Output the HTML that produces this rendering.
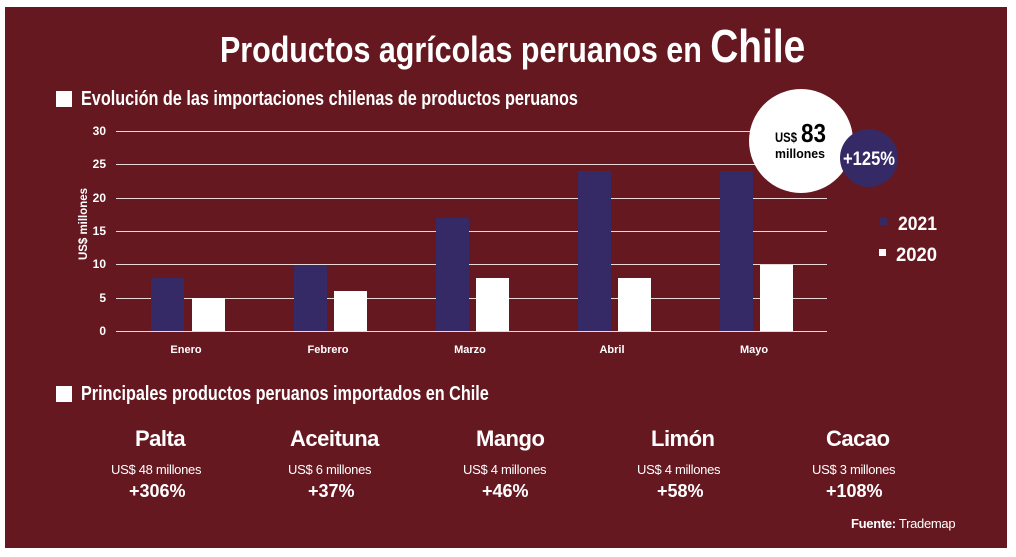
<!DOCTYPE html>
<html><head><meta charset="utf-8"><style>
body{margin:0;background:#fff;width:1016px;height:557px;overflow:hidden;position:relative;font-family:"Liberation Sans",sans-serif}
.bg{position:absolute;left:5px;top:7px;width:1002px;height:541px;background:#651820}
.n{font-family:"Liberation Sans Narrow","Liberation Sans",sans-serif;font-weight:bold;position:absolute;color:#fff;white-space:nowrap;transform-origin:0 0}
.a{position:absolute;color:#fff;white-space:nowrap}
</style></head><body>
<div class="bg"></div>
<div class="n" style="left:220px;top:24px;font-size:36px;line-height:44px;transform:scaleX(0.845)">Productos agrícolas peruanos en <span style="font-size:46px">Chile</span></div>
<div style="position:absolute;left:56px;top:91px;width:16px;height:16px;background:#fff"></div>
<div class="n" style="left:81px;top:88px;font-size:20px;transform:scaleX(0.81)">Evolución de las importaciones chilenas de productos peruanos</div>
<svg width="1016" height="557" style="position:absolute;left:0;top:0" font-family="Liberation Sans Narrow,Liberation Sans,sans-serif" font-weight="bold">
<g stroke="#e8d8d8" stroke-width="1">
<line x1="116" x2="827" y1="131.5" y2="131.5"/><line x1="116" x2="827" y1="164.5" y2="164.5"/><line x1="116" x2="827" y1="198.5" y2="198.5"/><line x1="116" x2="827" y1="231.5" y2="231.5"/><line x1="116" x2="827" y1="264.5" y2="264.5"/><line x1="116" x2="827" y1="298.5" y2="298.5"/><line x1="116" x2="827" y1="331.5" y2="331.5"/>
</g>
<g fill="#fff" font-size="12" text-anchor="end">
<text x="106" y="135">30</text><text x="106" y="168">25</text><text x="106" y="202">20</text><text x="106" y="235">15</text><text x="106" y="268">10</text><text x="106" y="302">5</text><text x="106" y="335">0</text>
</g>
<text transform="translate(87,224) rotate(-90)" fill="#fff" font-size="12" text-anchor="middle" textLength="72" lengthAdjust="spacingAndGlyphs">US$ millones</text>
<g fill="#352a66">
<rect x="151" y="278" width="33" height="53"/><rect x="294" y="265" width="33" height="66"/><rect x="436" y="218" width="33" height="113"/><rect x="578" y="171" width="33" height="160"/><rect x="720" y="171" width="33" height="160"/>
</g>
<g fill="#fff">
<rect x="192" y="298" width="33" height="33"/><rect x="334" y="291" width="33" height="40"/><rect x="476" y="278" width="33" height="53"/><rect x="618" y="278" width="33" height="53"/><rect x="760" y="265" width="33" height="66"/>
</g>
<g fill="#fff" font-size="11" text-anchor="middle">
<text x="186" y="353">Enero</text><text x="328" y="353">Febrero</text><text x="470" y="353">Marzo</text><text x="612" y="353">Abril</text><text x="754" y="353">Mayo</text>
</g>
<circle cx="801" cy="141" r="52" fill="#fff"/>
<circle cx="869" cy="158" r="29" fill="#352a66"/>
<text x="775" y="142" font-size="14" fill="#000" textLength="22" lengthAdjust="spacingAndGlyphs">US$</text>
<text x="801" y="142" font-size="26" fill="#000" textLength="25" lengthAdjust="spacingAndGlyphs">83</text>
<text x="775" y="158" font-size="13" fill="#000" textLength="50" lengthAdjust="spacingAndGlyphs">millones</text>
<text x="843" y="165" font-size="19" fill="#fff" textLength="52" lengthAdjust="spacingAndGlyphs">+125%</text>
<rect x="880" y="218" width="7" height="7" fill="#352a66"/>
<rect x="879" y="249" width="7" height="7" fill="#fff"/>
<text x="898" y="230" font-size="19" fill="#fff" textLength="39" lengthAdjust="spacingAndGlyphs">2021</text>
<text x="896" y="261" font-size="19" fill="#fff" textLength="41" lengthAdjust="spacingAndGlyphs">2020</text>
</svg>
<div style="position:absolute;left:56px;top:386px;width:16px;height:16px;background:#fff"></div>
<div class="n" style="left:81px;top:383px;font-size:20px;transform:scaleX(0.81)">Principales productos peruanos importados en Chile</div>
<div class="a" style="left:135px;top:426px;font-weight:bold;font-size:22px;letter-spacing:-0.5px">Palta</div>
<div class="a" style="left:290px;top:426px;font-weight:bold;font-size:22px;letter-spacing:-0.5px">Aceituna</div>
<div class="a" style="left:476px;top:426px;font-weight:bold;font-size:22px;letter-spacing:-0.5px">Mango</div>
<div class="a" style="left:651px;top:426px;font-weight:bold;font-size:22px;letter-spacing:-0.5px">Limón</div>
<div class="a" style="left:826px;top:426px;font-weight:bold;font-size:22px;letter-spacing:-0.5px">Cacao</div>
<div class="a" style="left:111px;top:462px;font-size:13px;letter-spacing:-0.3px">US$ 48 millones</div>
<div class="a" style="left:288px;top:462px;font-size:13px;letter-spacing:-0.3px">US$ 6 millones</div>
<div class="a" style="left:463px;top:462px;font-size:13px;letter-spacing:-0.3px">US$ 4 millones</div>
<div class="a" style="left:637px;top:462px;font-size:13px;letter-spacing:-0.3px">US$ 4 millones</div>
<div class="a" style="left:812px;top:462px;font-size:13px;letter-spacing:-0.3px">US$ 3 millones</div>
<div class="a" style="left:129px;top:481px;font-weight:bold;font-size:18px">+306%</div>
<div class="a" style="left:308px;top:481px;font-weight:bold;font-size:18px">+37%</div>
<div class="a" style="left:482px;top:481px;font-weight:bold;font-size:18px">+46%</div>
<div class="a" style="left:657px;top:481px;font-weight:bold;font-size:18px">+58%</div>
<div class="a" style="left:826px;top:481px;font-weight:bold;font-size:18px">+108%</div>
<div class="a" style="left:851px;top:516px;font-size:13px;letter-spacing:-0.3px"><b>Fuente:</b> Trademap</div>
</body></html>
